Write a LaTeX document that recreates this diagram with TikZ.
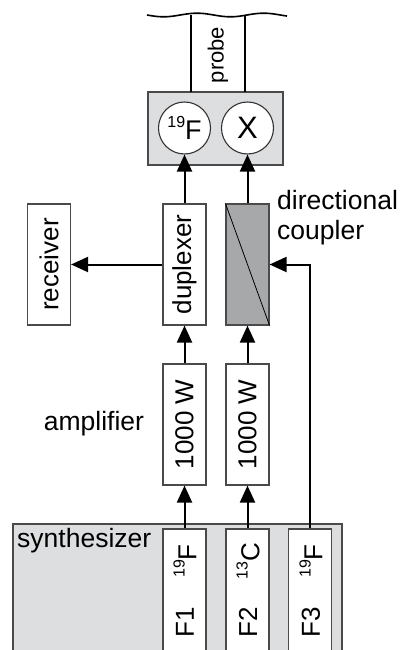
\documentclass[tikz,border=0pt]{standalone}
\usepackage{fontspec}
\setmainfont{Liberation Sans}
\usetikzlibrary{arrows.meta}
\definecolor{lightbg}{HTML}{DDDEE0}
\definecolor{cplfill}{HTML}{A7A8AA}
\definecolor{edge}{HTML}{4A4A4A}
\tikzset{
  box/.style={draw=edge, line width=1.1pt, fill=white, minimum width=43pt, inner sep=0pt},
  tall/.style={box, minimum height=121pt},
  rtext/.style={rotate=90, font=\fontsize{26}{30}\selectfont, inner sep=0pt},
  lbl/.style={font=\fontsize{26.5}{30}\selectfont, inner sep=0pt},
  circ/.style={circle, draw=black!80, line width=1.1pt, fill=white, minimum size=52pt, inner sep=0pt, font=\fontsize{27}{30}\selectfont},
  arr/.style={line width=2pt, -{Triangle[length=17pt,width=15pt]}},
  plain/.style={line width=1.6pt}
}
\newcommand{\sups}[1]{\raisebox{0.45em}{\fontsize{16}{18}\selectfont #1}}
\begin{document}
\begin{tikzpicture}[x=1pt,y=-1pt]
\clip (0,0) rectangle (403,650);
\fill[white] (0,0) rectangle (403,650);
% probe
\draw[plain] plot[domain=147:287, samples=80, smooth] (\x, {15+1.8*sin((\x-147)*5.4)});
\node[draw=edge, line width=1.1pt, fill=lightbg, minimum width=135pt, minimum height=73pt, inner sep=0pt] (pbox) at (215.5,128.5) {};
\coordinate (pl) at (191,92);
\coordinate (plt) at (191,15);
\coordinate (pr) at (245,92);
\coordinate (prt) at (245,15);
\draw[plain] (pl) -- (plt);
\draw[plain] (pr) -- (prt);
\node[rtext, font=\fontsize{22}{26}\selectfont] (probe) at (218,55) {probe};
\node[circ] (cF) at (184.5,128) {\sups{19}F};
\node[circ, font=\fontsize{31}{34}\selectfont] (cX) at (247.5,128) {X};
% middle row
\node[tall] (rec) at (49,264.5) {};
\node[rtext] at (rec) {receiver};
\node[tall] (dup) at (184.5,264.5) {};
\node[rtext] at (dup) {duplexer};
\node[tall, fill=cplfill] (cpl) at (247.5,264.5) {};
\draw[line width=0.8pt] (cpl.north west) -- (cpl.south east);
\node[lbl, anchor=north west, align=left] (dcl) at (277,190) {directional\\coupler};
% amplifiers
\node[tall] (amp1) at (184.5,424.5) {};
\node[rtext] at (amp1) {1000 W};
\node[tall] (amp2) at (247.5,424.5) {};
\node[rtext] at (amp2) {1000 W};
\node[lbl] (ampl) at (94,424) {amplifier};
% synthesizer
\node[draw=edge, line width=1.1pt, fill=lightbg, minimum width=329pt, minimum height=160pt, inner sep=0pt] (syn) at (177.5,604) {};
\node[lbl, anchor=west] (synl) at (17,541) {synthesizer};
\node[box, minimum height=141pt] (F1) at (184.5,599.5) {};
\node[box, minimum height=141pt] (F2) at (247.5,599.5) {};
\node[box, minimum height=141pt] (F3) at (310,599.5) {};
\node[rtext] at (185,561) {\sups{19}F};
\node[rtext] at (185,622) {F1};
\node[rtext] at (248,561) {\sups{13}C};
\node[rtext] at (248,622) {F2};
\node[rtext] at (311,561) {\sups{19}F};
\node[rtext] at (311,622) {F3};
% arrows
\draw[arr] (F1.north) -- (amp1.south);
\draw[arr] (F2.north) -- (amp2.south);
\draw[arr] (amp1.north) -- (dup.south);
\draw[arr] (amp2.north) -- (cpl.south);
\draw[arr] (dup.north) -- (cF.south);
\draw[arr] (cpl.north) -- (cX.south);
\draw[arr] (dup.west) -- (rec.east);
\draw[arr] (F3.north) |- (cpl.east);
\end{tikzpicture}
\end{document}
